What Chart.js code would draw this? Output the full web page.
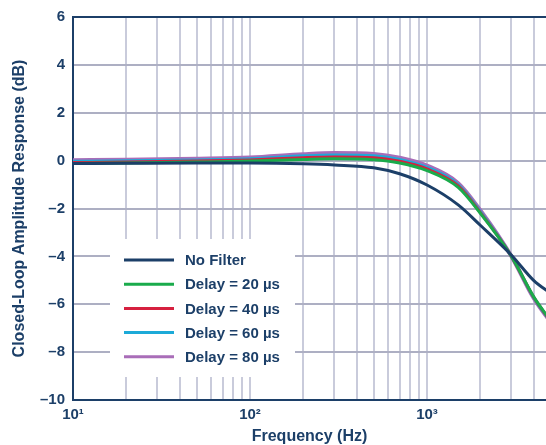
<!DOCTYPE html>
<html>
<head>
<meta charset="utf-8">
<script src="https://cdn.jsdelivr.net/npm/chart.js@4"></script>
<style>
    html, body { margin: 0; padding: 0; background: #ffffff; }
    #wrap { width: 546px; height: 445px; }
</style>
</head>
<body>
<div id="wrap"><canvas id="ampChart"></canvas></div>
<script>
// frequency points (Hz)
const freqs = [10, 20, 50, 100, 200, 300, 500, 700, 1000, 1500, 2000, 3000, 4000, 5000];

// closed-loop amplitude response (dB)
const noFilter = [-0.12, -0.11, -0.1, -0.1, -0.13, -0.18, -0.3, -0.55, -1.02, -1.85, -2.7, -3.95, -5.0, -5.55];
const delay20  = [-0.12, -0.1, -0.06, -0.02, 0.05, 0.08, 0.04, -0.1, -0.42, -1.12, -2.2, -4.0, -5.68, -6.7];
const delay40  = [-0.08, -0.06, -0.02, 0.03, 0.12, 0.15, 0.12, -0.03, -0.35, -1.06, -2.17, -4.0, -5.7, -6.72];
const delay60  = [-0.03, -0.01, 0.03, 0.08, 0.2, 0.24, 0.2, 0.05, -0.28, -1.0, -2.12, -4.0, -5.72, -6.74];
const delay80  = [0.02, 0.04, 0.08, 0.13, 0.27, 0.32, 0.28, 0.12, -0.21, -0.94, -2.07, -4.0, -5.74, -6.76];

const seriesLabels = ['No Filter', 'Delay = 20 µs', 'Delay = 40 µs', 'Delay = 60 µs', 'Delay = 80 µs'];
const seriesData = [noFilter, delay20, delay40, delay60, delay80];
const seriesColors = ['#1c3f68', '#1aab4b', '#d6203f', '#1caad8', '#a96db8'];
const seriesWidths = [3, 3, 3, 3, 4];

// vertical grid at every 1..9 x 10^n
const gridFreqs = [10, 20, 30, 40, 50, 60, 70, 80, 90, 100, 200, 300, 400, 500, 600, 700, 800, 900, 1000, 2000, 3000, 4000];
const decadeLabels = { 10: '10¹', 100: '10²', 1000: '10³' };

const navy = '#1c3f68';
const fontFam = '"Liberation Sans", Arial, sans-serif';

// white legend box drawn inside the plot, over the grid
const legendBox = {
    id: 'legendBox',
    beforeDatasetsDraw(chart) {
        const { ctx, chartArea } = chart;
        const x0 = chartArea.left + 37;
        const y0 = chartArea.top + 222;
        ctx.save();
        ctx.fillStyle = '#ffffff';
        ctx.fillRect(x0, y0, 185, 138);
        ctx.font = 'bold 15px ' + fontFam;
        ctx.textBaseline = 'middle';
        chart.data.datasets.forEach((ds, i) => {
            const y = y0 + 21 + i * 24.2;
            ctx.strokeStyle = ds.borderColor;
            ctx.lineWidth = 3;
            ctx.beginPath();
            ctx.moveTo(x0 + 14, y);
            ctx.lineTo(x0 + 64, y);
            ctx.stroke();
            ctx.fillStyle = navy;
            ctx.fillText(ds.label, x0 + 75, y + 1);
        });
        ctx.restore();
    }
};

const datasets = seriesLabels.map((label, i) => ({
    label: label,
    data: freqs.map((f, j) => ({ x: f, y: seriesData[i][j] })),
    borderColor: seriesColors[i],
    borderWidth: seriesWidths[i],
    pointRadius: 0,
    cubicInterpolationMode: 'monotone',
    fill: false
}));

const ctx = document.getElementById('ampChart').getContext('2d');

new Chart(ctx, {
    type: 'line',
    data: { datasets: datasets },
    options: {
        responsive: true,
        maintainAspectRatio: false,
        animation: false,
        layout: { padding: { top: 16, right: 0, left: 0, bottom: 0 } },
        plugins: {
            legend: { display: false },
            tooltip: { enabled: false }
        },
        scales: {
            x: {
                type: 'logarithmic',
                min: 10,
                max: 4700,
                afterBuildTicks: (scale) => {
                    scale.ticks = gridFreqs.map(v => ({ value: v }));
                },
                afterFit: (scale) => { scale.height = 45; },
                ticks: {
                    autoSkip: false,
                    maxRotation: 0,
                    padding: 6,
                    color: navy,
                    font: { family: fontFam, size: 15, weight: 'bold' },
                    callback: (v) => decadeLabels[v] || ''
                },
                grid: {
                    color: '#c9cbdb',
                    lineWidth: 2,
                    drawTicks: false
                },
                border: { color: navy, width: 2 },
                title: {
                    display: true,
                    text: 'Frequency (Hz)',
                    color: navy,
                    padding: { top: 0, bottom: 0 },
                    font: { family: fontFam, size: 16, weight: 'bold', lineHeight: 1 }
                }
            },
            y: {
                min: -10,
                max: 6,
                afterFit: (scale) => { scale.width = 73; },
                ticks: {
                    stepSize: 2,
                    padding: 8,
                    color: navy,
                    font: { family: fontFam, size: 15, weight: 'bold' },
                    callback: (v) => (v < 0 ? '\u2013' + Math.abs(v) : '' + v)
                },
                grid: {
                    color: (c) => (c.tick && c.tick.value === 6 ? navy : '#adafc3'),
                    lineWidth: 2,
                    drawTicks: false
                },
                border: { color: navy, width: 2 },
                title: {
                    display: true,
                    text: 'Closed-Loop Amplitude Response (dB)',
                    color: navy,
                    padding: { top: 12, bottom: 0 },
                    font: { family: fontFam, size: 16, weight: 'bold', lineHeight: 1 }
                }
            }
        }
    },
    plugins: [legendBox]
});
</script>
</body>
</html>
